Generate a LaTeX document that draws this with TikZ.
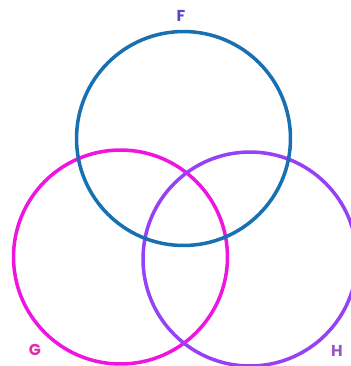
\documentclass[tikz,border=0pt]{standalone}
\usepackage{fontspec}
\setsansfont{Poppins}
\usepackage{tikz}
\definecolor{fblue}{RGB}{22, 112, 178}
\definecolor{gmagenta}{RGB}{240, 20, 225}
\definecolor{hpurple}{RGB}{150, 65, 245}
\definecolor{flabel}{RGB}{85, 75, 205}
\definecolor{glabel}{RGB}{225, 45, 165}
\definecolor{hlabel}{RGB}{150, 85, 200}

\begin{document}
\begin{tikzpicture}[
    x=0.02cm, y=-0.02cm,
    setcircle/.style={circle, draw=#1, line width=2pt,
                      minimum size=4.28cm, inner sep=0pt},
    setlabel/.style={font=\sffamily\bfseries\fontsize{9}{10}\selectfont,
                     text=#1, inner sep=0pt},
]
    \useasboundingbox (0,0) rectangle (351,366);
    % the three sets
    \node[setcircle=gmagenta] (G) at (120.5,257) {};
    \node[setcircle=hpurple] (H) at (250,259) {};
    \node[setcircle=fblue] (F) at (183.5,138.5) {};

    % set names
    \node[setlabel=flabel] (lF) at (181,16) {F};
    \node[setlabel=glabel] (lG) at (35,350) {G};
    \node[setlabel=hlabel] (lH) at (337,351) {H};
\end{tikzpicture}
\end{document}
